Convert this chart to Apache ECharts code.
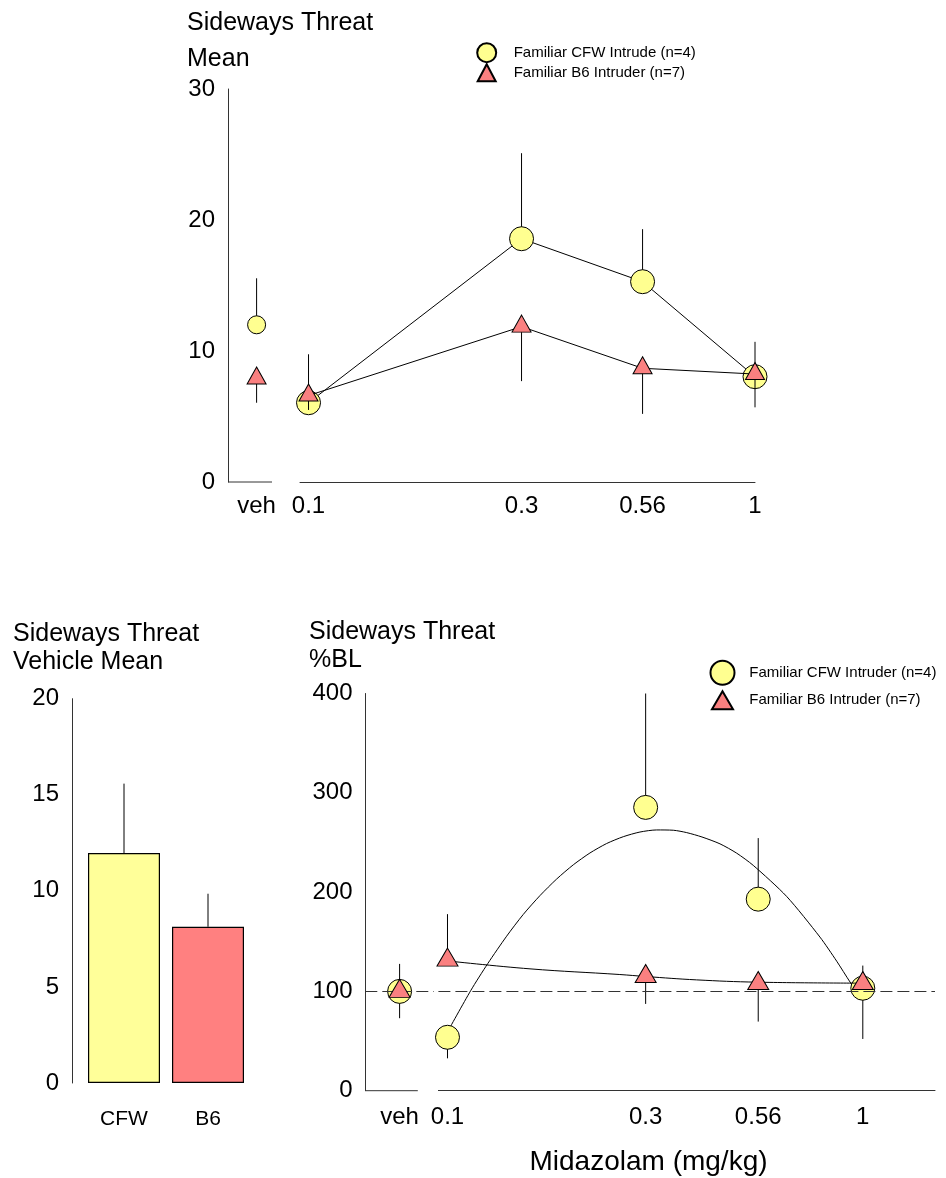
<!DOCTYPE html>
<html><head><meta charset="utf-8">
<script src="https://cdn.jsdelivr.net/npm/echarts@6/dist/echarts.min.js"></script>
<style>html,body{margin:0;padding:0;background:#fff}#c{width:946px;height:1178px}</style>
</head><body><div id="c"></div>
<script>
// ---------- DATA ----------
const doses = [0.1, 0.3, 0.56, 1];
const doseTickLabels = ['0.1', '0.3', '0.56', '1'];
const vehLabel = ['veh'];

// Top panel: Sideways Threat Mean
const topCfwVeh = [12.0];
const topCfwVehErrEnd = [15.55];
const topB6Veh = [7.9];
const topB6VehErrEnd = [6.05];
const topCfwMean = [6.05, 18.57, 15.29, 8.04];
const topCfwErrEnd = [9.75, 25.1, 19.3, 10.7];
const topB6Mean = [6.6, 11.86, 8.68, 8.24];
const topB6ErrEnd = [5.5, 7.7, 5.2, 5.7];

// Bottom-left: vehicle mean bars
const vehGroups = ['CFW', 'B6'];
const vehBarMean = [11.97, 8.13];
const vehBarErrEnd = [15.58, 9.85];

// Bottom-right: %BL
const pctCfwVeh = [100];
const pctCfwVehErrEnd = [73];
const pctB6Veh = [100];
const pctB6VehErrEnd = [127.7];
const pctCfwMean = [53.8, 285.3, 192.9, 103.2];
const pctCfwErrEnd = [32.6, 400, 254.4, 52.1];
const pctB6Mean = [131.5, 115, 108, 108];
const pctB6ErrEnd = [177.8, 87.4, 69.6, 126];
const cfwFitDose = [0.1, 0.1137, 0.125, 0.1388, 0.1522, 0.167, 0.1832, 0.2009, 0.2203, 0.2416, 0.265,
                    0.2907, 0.3189, 0.3497, 0.3767, 0.41, 0.453, 0.497, 0.5448, 0.6554, 0.7886, 0.8654, 0.9315, 1];
const cfwFitVal  = [59.2, 100.7, 128.0, 155.6, 177.5, 196.5, 213.2, 227.5, 239.4, 248.9, 255.8,
                    260.5, 262.6, 262.3, 259.9, 255.5, 248.6, 239.2, 226.9, 195.7, 154.7, 130.4, 109.5, 90.9];
const b6FitDose = [0.1, 0.158, 0.26, 0.3, 0.398, 0.555, 1];
const b6FitVal  = [130.7, 122.7, 117.0, 115.0, 111.6, 109.3, 108.3];
const baselineValue = 100;

const L_TOP_CFW = 'Familiar CFW Intrude (n=4)';
const L_TOP_B6 = 'Familiar B6 Intruder (n=7)';
const L_BOT_CFW = 'Familiar CFW Intruder (n=4)';
const L_BOT_B6 = 'Familiar B6 Intruder (n=7) ';

// ---------- STYLE ----------
const FONT = '"Liberation Sans", Arial, Helvetica, sans-serif';
const YEL = '#ffff90', RED = '#fa8080', BAR_YEL = '#ffff99', BAR_RED = '#ff8080';
const INK = '#000', AX = '#333';

const zip2 = (xs, ys) => xs.map((x, i) => [x, ys[i]]);
const zip3 = (xs, ys, zs) => xs.map((x, i) => [x, ys[i], zs[i]]);
const fmtDose = v => {
  let best = 0;
  doses.forEach((d, i) => {
    if (Math.abs(Math.log(d) - Math.log(v)) < Math.abs(Math.log(doses[best]) - Math.log(v))) best = i;
  });
  return doseTickLabels[best];
};
const errRender = (params, api) => {
  const x = api.value(0);
  const a = api.coord([x, api.value(1)]);
  const b = api.coord([x, api.value(2)]);
  return { type: 'line', shape: { x1: a[0], y1: a[1], x2: b[0], y2: b[1] },
           style: { stroke: INK, lineWidth: 1 } };
};
const errSeries = (xi, data, z) => ({
  type: 'custom', xAxisIndex: xi, yAxisIndex: xi, renderItem: errRender,
  encode: { x: 0, y: [1, 2] }, data, z, silent: true
});
const axLine = { show: true, onZero: false, lineStyle: { color: AX, width: 1 } };
const yLab = (m) => ({ color: '#000', fontSize: 24, fontFamily: FONT, margin: m });
const circleStyle = { color: YEL, borderColor: INK, borderWidth: 1, opacity: 1 };
const triStyle = { color: RED, borderColor: INK, borderWidth: 1, opacity: 1 };
const legendItem = (name, left, top, w, h, padLeft) => ({
  data: [name], orient: 'vertical', left, top, padding: 0, itemWidth: w, itemHeight: h,
  selectedMode: false,
  textStyle: { fontSize: 15, color: '#000', fontFamily: FONT, padding: [0, 0, 0, padLeft] }
});

const option = {
  animation: false,
  textStyle: { fontFamily: FONT },
  title: [
    { text: 'Sideways Threat\nMean', left: 187, top: 4.7, padding: 0,
      textStyle: { fontSize: 25, fontWeight: 'normal', color: '#000', lineHeight: 36.6, fontFamily: FONT } },
    { text: 'Sideways Threat\nVehicle Mean', left: 13, top: 620.7, padding: 0,
      textStyle: { fontSize: 25, fontWeight: 'normal', color: '#000', lineHeight: 27.7, fontFamily: FONT } },
    { text: 'Sideways Threat\n%BL', left: 309, top: 617.7, padding: 0,
      textStyle: { fontSize: 25, fontWeight: 'normal', color: '#000', lineHeight: 28.6, fontFamily: FONT } }
  ],
  legend: [
    legendItem(L_TOP_CFW, 476.2, 42.2, 19, 19, 12.5),
    legendItem(L_TOP_B6, 476.7, 63.2, 18, 17, 13),
    legendItem(L_BOT_CFW, 709.5, 659.7, 24, 24, 9.8),
    legendItem(L_BOT_B6, 711, 690.3, 21, 18, 11.3)
  ],
  grid: [
    { left: 228, top: 89, width: 57.2, height: 393 },
    { left: 300, top: 89, width: 455, height: 393 },
    { left: 82, top: 698.7, width: 168, height: 384.3 },
    { left: 365.3, top: 693.5, width: 68.6, height: 397.2 },
    { left: 438.4, top: 693.5, width: 496.6, height: 397.2 }
  ],
  xAxis: [
    { type: 'category', gridIndex: 0, data: vehLabel, boundaryGap: true,
      axisLine: { show: false }, axisTick: { show: false }, axisLabel: yLab(12.7) },
    { type: 'log', gridIndex: 1, logBase: 10, min: 0.0957, max: 1,
      axisLine: axLine, axisTick: { show: false }, splitLine: { show: false }, minorTick: { show: false },
      axisLabel: Object.assign(yLab(12.7), { customValues: doses, formatter: fmtDose }) },
    { type: 'category', gridIndex: 2, data: vehGroups, boundaryGap: true,
      axisLine: { show: false }, axisTick: { show: false },
      axisLabel: { color: '#000', fontSize: 21, fontFamily: FONT, margin: 25.5 } },
    { type: 'category', gridIndex: 3, data: vehLabel, boundaryGap: true,
      axisLine: { show: false }, axisTick: { show: false }, axisLabel: yLab(14.5) },
    { type: 'log', gridIndex: 4, logBase: 10, min: 0.09508, max: 1.4923,
      axisLine: axLine, axisTick: { show: false }, splitLine: { show: false }, minorTick: { show: false },
      axisLabel: Object.assign(yLab(14.5), { customValues: doses, formatter: fmtDose }) }
  ],
  yAxis: [
    { type: 'value', gridIndex: 0, min: 0, max: 30, interval: 10, axisLine: axLine,
      axisTick: { show: false }, splitLine: { show: false }, axisLabel: yLab(13) },
    { type: 'value', gridIndex: 1, min: 0, max: 30, show: false },
    { type: 'value', gridIndex: 2, min: 0, max: 20, interval: 5, offset: 9.3, axisLine: axLine,
      axisTick: { show: false }, splitLine: { show: false }, axisLabel: yLab(13.7) },
    { type: 'value', gridIndex: 3, min: 0, max: 400, interval: 100, axisLine: axLine,
      axisTick: { show: false }, splitLine: { show: false }, axisLabel: yLab(12.8) },
    { type: 'value', gridIndex: 4, min: 0, max: 400, show: false }
  ],
  graphic: [
    { type: 'line', shape: { x1: 228, y1: 482, x2: 272, y2: 482 }, style: { stroke: AX, lineWidth: 1 } },
    { type: 'line', shape: { x1: 365.3, y1: 1090.7, x2: 417.8, y2: 1090.7 }, style: { stroke: AX, lineWidth: 1 } },
    { type: 'text', x: 648.5, y: 1162,
      style: { text: 'Midazolam (mg/kg)', fontSize: 28, fontFamily: FONT, fill: '#000',
               align: 'center', verticalAlign: 'middle', textAlign: 'center', textVerticalAlign: 'middle' } }
  ],
  series: [
    // ---- top panel ----
    errSeries(0, zip3(vehLabel, topCfwVeh, topCfwVehErrEnd), 1),
    errSeries(1, zip3(doses, topCfwMean, topCfwErrEnd), 1),
    { type: 'line', name: 'cfwTopLine', xAxisIndex: 1, yAxisIndex: 1, data: zip2(doses, topCfwMean),
      symbol: 'none', lineStyle: { color: INK, width: 1 }, z: 2, silent: true },
    { type: 'scatter', name: L_TOP_CFW, xAxisIndex: 0, yAxisIndex: 0, data: zip2(vehLabel, topCfwVeh),
      symbol: 'circle', symbolSize: 18, itemStyle: circleStyle, z: 3 },
    { type: 'scatter', name: L_TOP_CFW, xAxisIndex: 1, yAxisIndex: 1, data: zip2(doses, topCfwMean),
      symbol: 'circle', symbolSize: 24, itemStyle: circleStyle, z: 3 },
    errSeries(0, zip3(vehLabel, topB6Veh, topB6VehErrEnd), 4),
    errSeries(1, zip3(doses, topB6Mean, topB6ErrEnd), 4),
    { type: 'line', name: 'b6TopLine', xAxisIndex: 1, yAxisIndex: 1, data: zip2(doses, topB6Mean),
      symbol: 'none', lineStyle: { color: INK, width: 1 }, z: 5, silent: true },
    { type: 'scatter', name: L_TOP_B6, xAxisIndex: 0, yAxisIndex: 0, data: zip2(vehLabel, topB6Veh),
      symbol: 'triangle', symbolSize: [19, 17], symbolOffset: [0, -3], itemStyle: triStyle, z: 6 },
    { type: 'scatter', name: L_TOP_B6, xAxisIndex: 1, yAxisIndex: 1, data: zip2(doses, topB6Mean),
      symbol: 'triangle', symbolSize: [19, 17], symbolOffset: [0, -3], itemStyle: triStyle, z: 6 },

    // ---- bottom-left bars ----
    { type: 'bar', name: 'vehBars', xAxisIndex: 2, yAxisIndex: 2, barWidth: 72,
      data: vehBarMean.map((v, i) => ({ value: v, itemStyle: { color: i === 0 ? BAR_YEL : BAR_RED } })),
      itemStyle: { borderColor: INK, borderWidth: 1.2 }, z: 2, silent: true },
    errSeries(2, zip3(vehGroups, vehBarMean, vehBarErrEnd), 3),

    // ---- bottom-right %BL ----
    { type: 'line', name: 'base3', xAxisIndex: 3, yAxisIndex: 3, data: [], z: 0, silent: true,
      markLine: { silent: true, symbol: 'none', label: { show: false },
        lineStyle: { type: [12, 5], color: AX, width: 1 }, data: [{ yAxis: baselineValue }] } },
    { type: 'line', name: 'base4', xAxisIndex: 4, yAxisIndex: 4, data: [], z: 0, silent: true,
      markLine: { silent: true, symbol: 'none', label: { show: false },
        lineStyle: { type: [12, 5], color: AX, width: 1 }, data: [{ yAxis: baselineValue }] } },
    errSeries(3, zip3(vehLabel, pctCfwVeh, pctCfwVehErrEnd), 1),
    errSeries(4, zip3(doses, pctCfwMean, pctCfwErrEnd), 1),
    { type: 'line', name: 'cfwFit', xAxisIndex: 4, yAxisIndex: 4, data: zip2(cfwFitDose, cfwFitVal),
      symbol: 'none', smooth: 0.25, lineStyle: { color: INK, width: 1 }, z: 2, silent: true },
    { type: 'scatter', name: L_BOT_CFW, xAxisIndex: 3, yAxisIndex: 3, data: zip2(vehLabel, pctCfwVeh),
      symbol: 'circle', symbolSize: 24, itemStyle: circleStyle, z: 3 },
    { type: 'scatter', name: L_BOT_CFW, xAxisIndex: 4, yAxisIndex: 4, data: zip2(doses, pctCfwMean),
      symbol: 'circle', symbolSize: 24, itemStyle: circleStyle, z: 3 },
    errSeries(3, zip3(vehLabel, pctB6Veh, pctB6VehErrEnd), 4),
    errSeries(4, zip3(doses, pctB6Mean, pctB6ErrEnd), 4),
    { type: 'line', name: 'b6Fit', xAxisIndex: 4, yAxisIndex: 4, data: zip2(b6FitDose, b6FitVal),
      symbol: 'none', smooth: 0.4, lineStyle: { color: INK, width: 1 }, z: 5, silent: true },
    { type: 'scatter', name: L_BOT_B6, xAxisIndex: 3, yAxisIndex: 3, data: zip2(vehLabel, pctB6Veh),
      symbol: 'triangle', symbolSize: [21, 18], symbolOffset: [0, -3], itemStyle: triStyle, z: 6 },
    { type: 'scatter', name: L_BOT_B6, xAxisIndex: 4, yAxisIndex: 4, data: zip2(doses, pctB6Mean),
      symbol: 'triangle', symbolSize: [21, 18], symbolOffset: [0, -3], itemStyle: triStyle, z: 6 }
  ]
};
const chart = echarts.init(document.getElementById('c'), null, { renderer: 'canvas' });
chart.setOption(option);
</script></body></html>
